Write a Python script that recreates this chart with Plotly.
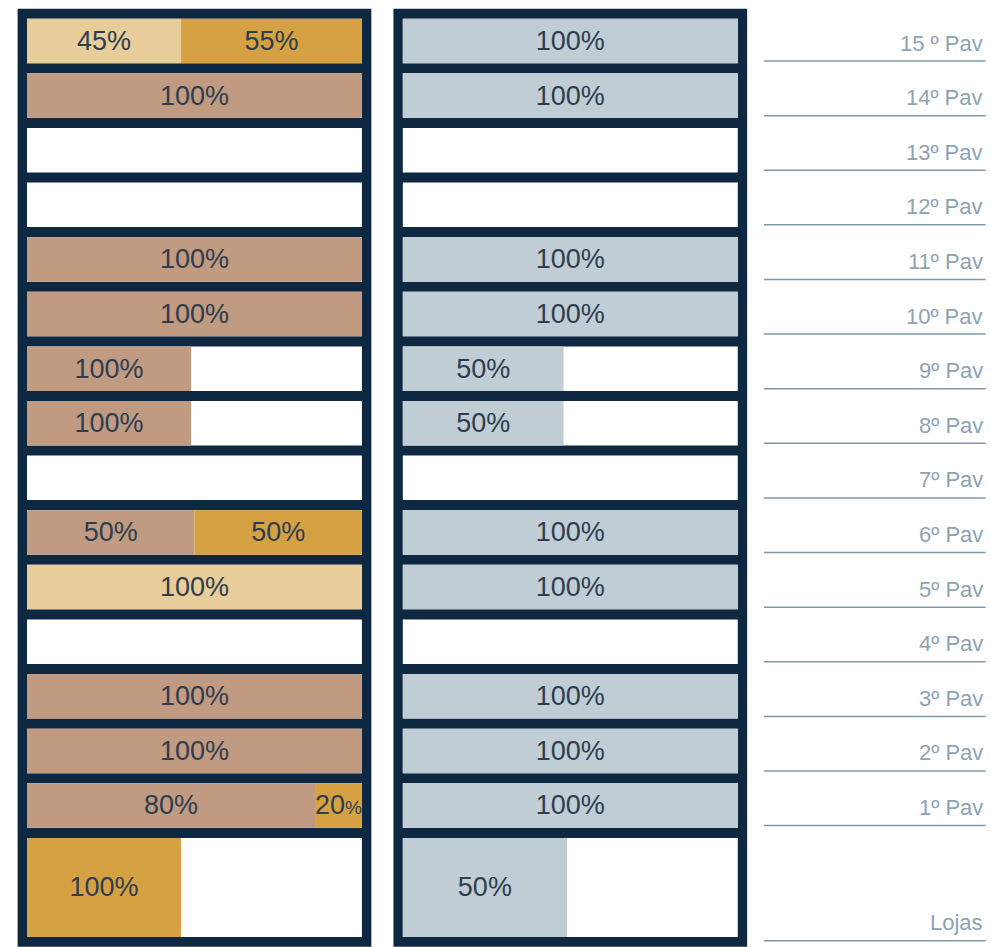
import plotly.graph_objects as go

# ---------------- data ----------------
floors = ["Lojas", "1º Pav", "2º Pav", "3º Pav", "4º Pav", "5º Pav", "6º Pav", "7º Pav",
          "8º Pav", "9º Pav", "10º Pav", "11º Pav", "12º Pav", "13º Pav", "14º Pav", "15 º Pav"]

# Left tower: share of floor width per category (order: Lojas, 1..15)
left_light = [0, 0, 0, 0, 0, 1.0, 0, 0, 0, 0, 0, 0, 0, 0, 0, 0.46]
left_brown = [0, 0.86, 1.0, 1.0, 0, 0, 0.5, 0, 0.49, 0.49, 1.0, 1.0, 0, 0, 1.0, 0]
left_gold = [0.46, 0.14, 0, 0, 0, 0, 0.5, 0, 0, 0, 0, 0, 0, 0, 0, 0.54]

left_light_lbl = ["", "", "", "", "", "100%", "", "", "", "", "", "", "", "", "", "45%"]
left_brown_lbl = ["", "80%", "100%", "100%", "", "", "50%", "", "100%", "100%", "100%", "100%", "", "", "100%", ""]
left_gold_lbl = ["100%", "20<span style='font-size:19px'>%</span>", "", "", "", "", "50%", "", "", "", "", "", "", "", "", "55%"]

# Right tower
right_blue = [0.49, 1.0, 1.0, 1.0, 0, 1.0, 1.0, 0, 0.48, 0.48, 1.0, 1.0, 0, 0, 1.0, 1.0]
right_blue_lbl = ["50%", "100%", "100%", "100%", "", "100%", "100%", "", "50%", "50%", "100%", "100%", "", "", "100%", "100%"]

# ---------------- styles ----------------
NAVY = "#0F2842"
LIGHT = "#E8CD9B"
BROWN = "#C19A82"
GOLD = "#D6A142"
BLUE = "#C0CDD5"
TXT = "#2F3E4E"
LBL = "#8DA3B2"
LINE = "#7F99AB"
FONT = "Liberation Sans"

GAP = 0.185
FRAME = 0.18
RIGHT_OFF = 1.122
FRAME_X = 0.028
TEXT_NUDGE = -0.04

n = len(floors)
centers = [0.5] + [k + 1 for k in range(1, n)]
heights = [2 - GAP] + [1 - GAP] * (n - 1)
bottoms = [c - h / 2 for c, h in zip(centers, heights)]
tops = [c + h / 2 for c, h in zip(centers, heights)]

fig = go.Figure()


def add_tower(offset, series):
    # white empty cells
    fig.add_trace(go.Bar(orientation="h", y=centers, x=[1.0] * n, base=[offset] * n,
                         width=heights, marker=dict(color="white", line=dict(width=0)),
                         hoverinfo="skip", showlegend=False))
    cum = [0.0] * n
    tx, ty, tt = [], [], []
    for vals, lbls, color in series:
        fig.add_trace(go.Bar(orientation="h", y=centers, x=vals,
                             base=[offset + c for c in cum], width=heights,
                             marker=dict(color=color, line=dict(width=0)),
                             hoverinfo="skip", showlegend=False))
        for i in range(n):
            if vals[i] > 0 and lbls[i]:
                tx.append(offset + cum[i] + vals[i] / 2)
                ty.append(centers[i] + TEXT_NUDGE)
                tt.append(lbls[i])
        cum = [c + v for c, v in zip(cum, vals)]
    fig.add_trace(go.Scatter(x=tx, y=ty, text=tt, mode="text",
                             textfont=dict(family=FONT, size=27, color=TXT),
                             hoverinfo="skip", showlegend=False))
    fig.add_shape(type="rect", layer="below", x0=offset - FRAME_X, x1=offset + 1 + FRAME_X,
                  y0=bottoms[0] - FRAME, y1=tops[-1] + FRAME,
                  fillcolor=NAVY, line=dict(width=0))


add_tower(0.0, [(left_light, left_light_lbl, LIGHT),
                (left_brown, left_brown_lbl, BROWN),
                (left_gold, left_gold_lbl, GOLD)])
add_tower(RIGHT_OFF, [(right_blue, right_blue_lbl, BLUE)])

# floor labels with underline
for i, name in enumerate(floors):
    line_y = bottoms[i] + (0.04 if i > 0 else -0.07)
    fig.add_shape(type="line", x0=2.2, x1=2.862, y0=line_y, y1=line_y,
                  line=dict(color=LINE, width=1.5))
    fig.add_annotation(x=2.86, y=line_y + 0.33, text=name, showarrow=False,
                       xanchor="right", yanchor="middle",
                       font=dict(family=FONT, size=22, color=LBL))

fig.update_layout(
    width=991, height=947,
    margin=dict(l=0, r=0, t=0, b=0),
    paper_bgcolor="white", plot_bgcolor="white",
    barmode="overlay",
    xaxis=dict(range=[-0.0806, 2.878], visible=False, fixedrange=True),
    yaxis=dict(range=[-0.59, 16.75], visible=False, fixedrange=True),
    showlegend=False,
)

fig.write_html("out.html", config={"displayModeBar": False},
               post_script="document.body.style.margin='0px';document.body.style.overflow='hidden';")
